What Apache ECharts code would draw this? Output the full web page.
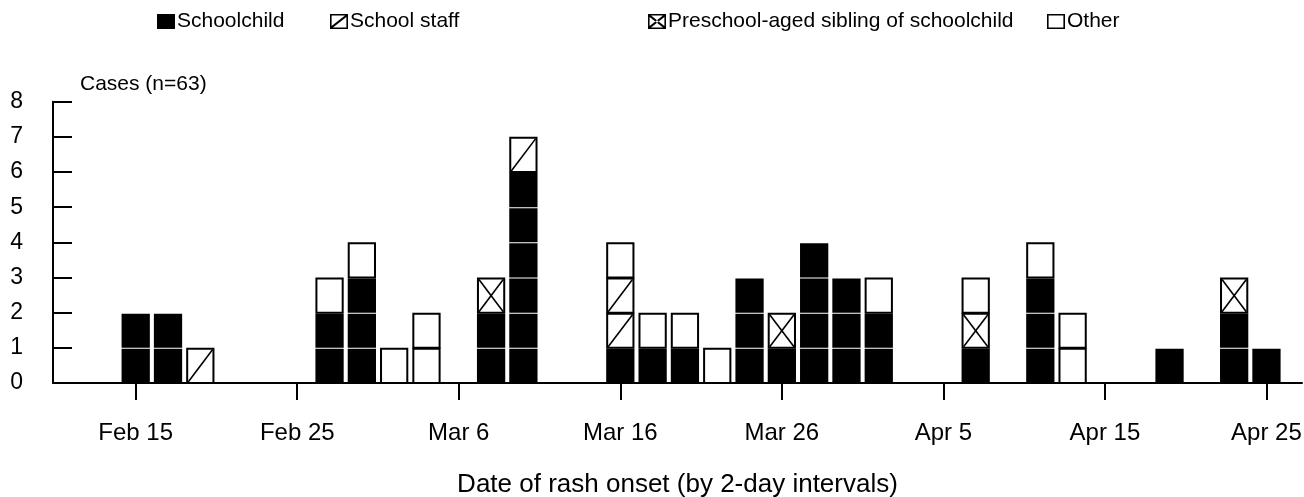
<!DOCTYPE html>
<html lang="en">
<head>
    <meta charset="UTF-8">
    <title>Cases by date of rash onset</title>
    <script src="https://cdn.jsdelivr.net/npm/echarts@6/dist/echarts.min.js"></script>
    <style>
        html, body { margin: 0; padding: 0; background: #fff; }
        #main { width: 1304px; height: 497px; }
    </style>
</head>
<body>
<div id="main"></div>
<script type="text/javascript">
    // day number of each 2-day bin (Feb 1 = 1, leap year so Mar 1 = 30, Apr 1 = 61)
    var binDays     = [15, 17, 19, 27, 29, 31, 33, 37, 39, 45, 47, 49, 51, 53, 55, 57, 59, 61, 67, 71, 73, 79, 83, 85];
    var schoolchild = [ 2,  2,  0,  2,  3,  0,  0,  2,  6,  1,  1,  1,  0,  3,  1,  4,  3,  2,  1,  3,  0,  1,  2,  1];
    var staff       = [ 0,  0,  1,  0,  0,  0,  0,  0,  1,  2,  0,  0,  0,  0,  0,  0,  0,  0,  0,  0,  0,  0,  0,  0];
    var sibling     = [ 0,  0,  0,  0,  0,  0,  0,  1,  0,  0,  0,  0,  0,  0,  1,  0,  0,  0,  1,  0,  0,  0,  1,  0];
    var other       = [ 0,  0,  0,  1,  1,  1,  2,  0,  0,  1,  1,  1,  1,  0,  0,  0,  0,  1,  1,  1,  2,  0,  0,  0];

    var tickDays   = [15, 25, 35, 45, 55, 65, 75, 85];
    var tickLabels = ['Feb 15', 'Feb 25', 'Mar 6', 'Mar 16', 'Mar 26', 'Apr 5', 'Apr 15', 'Apr 25'];

    var names = ['Schoolchild', 'School staff', 'Preschool-aged sibling of schoolchild', 'Other'];
    var counts = [schoolchild, staff, sibling, other];

    var FONT = '"Liberation Sans", Arial, sans-serif';

    // one item per case, stacked in legend order
    var cases = counts.map(function () { return []; });
    binDays.forEach(function (d, i) {
        var lvl = 0;
        counts.forEach(function (arr, k) {
            for (var n = 0; n < arr[i]; n++) {
                cases[k].push([d, lvl]);
                lvl++;
            }
        });
    });

    function caseBox(kind) {
        return function (params, api) {
            var day = api.value(0), lvl = api.value(1);
            var bot = api.coord([day, lvl]);
            var top = api.coord([day, lvl + 1]);
            var w = api.size([2, 0])[0] * 0.875;
            var x = bot[0] - w / 2, y = top[1], h = bot[1] - top[1];
            if (kind === 0) {
                return { type: 'rect', shape: { x: x, y: y + 1, width: w, height: h - 1 }, style: { fill: '#000' } };
            }
            var kids = [{
                type: 'rect',
                shape: { x: x + 1, y: y + 1, width: w - 2, height: h - 1 },
                style: { fill: '#fff', stroke: '#000', lineWidth: 2 }
            }];
            if (kind === 1 || kind === 2) {
                kids.push({ type: 'line', shape: { x1: x + 2, y1: y + h - 1, x2: x + w - 2, y2: y + 2 }, style: { stroke: '#000', lineWidth: 1.6 } });
            }
            if (kind === 2) {
                kids.push({ type: 'line', shape: { x1: x + 2, y1: y + 2, x2: x + w - 2, y2: y + h - 1 }, style: { stroke: '#000', lineWidth: 1.6 } });
            }
            return { type: 'group', children: kids };
        };
    }

    // legend icons (18x15 box)
    var frame = 'M0,0H18V15H0Z M1.6,1.6V13.4H16.4V1.6Z ';
    var diag1 = 'M1.6,13.4L1.6,12L15,1.6L16.4,1.6L16.4,3L3,13.4Z ';
    var diag2 = 'M1.6,1.6L1.6,3L15,13.4L16.4,13.4L16.4,12L3,1.6Z ';
    var icons = ['rect', 'path://' + frame + diag1, 'path://' + frame + diag1 + diag2, 'path://' + frame];
    var legendLeft = [152, 325, 643, 1042];

    var myChart = echarts.init(document.getElementById('main'));

    myChart.setOption({
        animation: false,
        backgroundColor: '#fff',
        title: {
            text: 'Cases (n=63)',
            left: 75,
            top: 69,
            textStyle: { fontFamily: FONT, fontSize: 21, fontWeight: 'normal', color: '#000' }
        },
        legend: names.map(function (n, i) {
            return {
                data: [{ name: n, icon: icons[i] }],
                left: legendLeft[i],
                top: 6,
                itemWidth: 18,
                itemHeight: 15,
                selectedMode: false,
                itemStyle: { color: '#000', borderWidth: 0 },
                textStyle: { fontFamily: FONT, fontSize: 21, color: '#000', padding: [0, 0, 0, -3] }
            };
        }),
        grid: { left: 53, right: 2, top: 101.7, bottom: 114, containLabel: false, outerBoundsMode: 'none' },
        xAxis: {
            type: 'value',
            min: 9.88,
            max: 87.2,
            name: 'Date of rash onset (by 2-day intervals)',
            nameLocation: 'middle',
            nameGap: 89,
            nameTextStyle: { fontFamily: FONT, fontSize: 26, color: '#000' },
            axisLine: { show: true, lineStyle: { color: '#000', width: 2 } },
            axisTick: { show: true, customValues: tickDays, length: 17, lineStyle: { color: '#000', width: 2 } },
            axisLabel: {
                customValues: tickDays,
                margin: 38,
                fontFamily: FONT, fontSize: 24, color: '#000',
                formatter: function (v) {
                    var i = tickDays.indexOf(Math.round(v));
                    return i >= 0 ? tickLabels[i] : '';
                }
            },
            splitLine: { show: false }
        },
        yAxis: {
            type: 'value',
            min: 0,
            max: 8,
            interval: 1,
            axisLine: { show: true, lineStyle: { color: '#000', width: 2 } },
            axisTick: { show: true, inside: true, length: 19, lineStyle: { color: '#000', width: 2 } },
            axisLabel: { margin: 30, fontFamily: FONT, fontSize: 23, color: '#000' },
            splitLine: { show: false }
        },
        series: names.map(function (n, k) {
            return {
                name: n,
                type: 'custom',
                renderItem: caseBox(k),
                itemStyle: { color: '#000' },
                data: cases[k],
                z: 3
            };
        })
    });
</script>
</body>
</html>
